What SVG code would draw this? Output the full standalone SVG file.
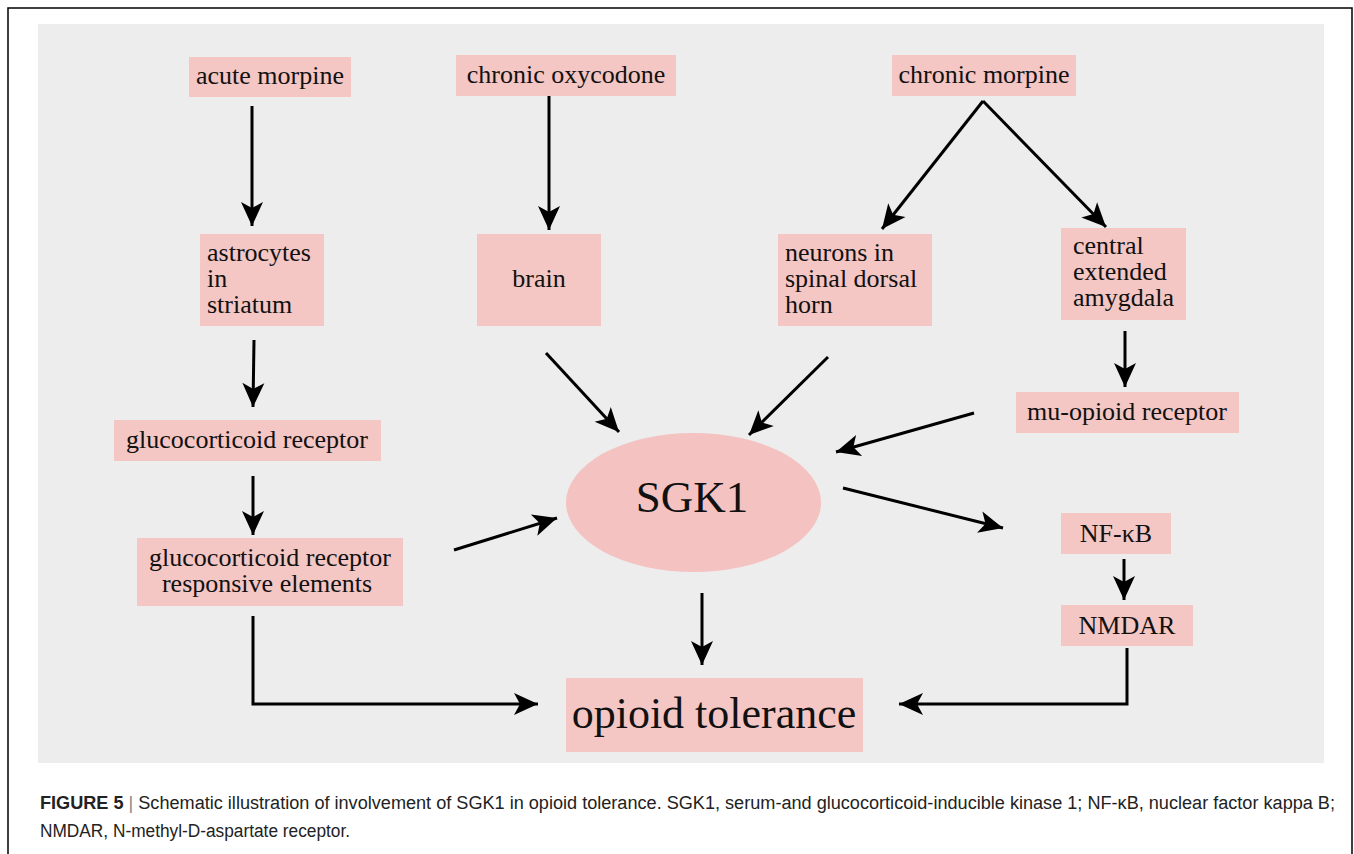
<svg xmlns="http://www.w3.org/2000/svg" width="1354" height="854" viewBox="0 0 1354 854">
<style>
.box{fill:#f4c6c4}
.t{font-family:"Liberation Serif","Times New Roman",serif;font-size:26px;fill:#111}
.c{text-anchor:middle}
.ln{fill:none;stroke:#000;stroke-width:3}
.cap{font-family:"Liberation Sans",Arial,sans-serif;font-size:18px;fill:#222}
</style>
<defs>
<marker id="ah" markerUnits="userSpaceOnUse" markerWidth="30" markerHeight="30" viewBox="-2 -13 30 26" refX="24" refY="0" orient="auto">
<path d="M0,-11 L24,0 L0,11 L6,0 z" fill="#000"/>
</marker>
</defs>
<rect width="1354" height="854" fill="#fff"/>
<path d="M8,860 V8 H1352 V860" fill="none" stroke="#000" stroke-width="1.5"/>
<rect x="38" y="24" width="1286" height="739" fill="#ededed"/>

<g id="acute-morpine"><rect class="box" x="189" y="57" width="162" height="40"/><text class="t c" x="270" y="84">acute morpine</text></g>
<g id="chronic-oxycodone"><rect class="box" x="456" y="55" width="220" height="41"/><text class="t c" x="566" y="83">chronic oxycodone</text></g>
<g id="chronic-morpine"><rect class="box" x="892" y="55" width="184" height="41"/><text class="t c" x="984" y="83">chronic morpine</text></g>
<g id="astrocytes"><rect class="box" x="200" y="234" width="124" height="92"/><text class="t" x="207" y="261">astrocytes</text><text class="t" x="207" y="287">in</text><text class="t" x="207" y="313">striatum</text></g>
<g id="brain"><rect class="box" x="477" y="234" width="124" height="92"/><text class="t c" x="539" y="287">brain</text></g>
<g id="neurons"><rect class="box" x="778" y="234" width="154" height="92"/><text class="t" x="785" y="261">neurons in</text><text class="t" x="785" y="287">spinal dorsal</text><text class="t" x="785" y="313">horn</text></g>
<g id="amygdala"><rect class="box" x="1061" y="228" width="125" height="92"/><text class="t" x="1073" y="254">central</text><text class="t" x="1073" y="280">extended</text><text class="t" x="1073" y="306">amygdala</text></g>
<g id="gr"><rect class="box" x="114" y="420" width="267" height="41"/><text class="t c" x="247" y="448">glucocorticoid receptor</text></g>
<g id="gre"><rect class="box" x="137" y="538" width="266" height="68"/><text class="t c" x="270" y="566">glucocorticoid receptor</text><text class="t c" x="267" y="592">responsive elements</text></g>
<g id="sgk1"><ellipse cx="693.5" cy="502.5" rx="127.5" ry="69.5" fill="#f4c2c0"/><text class="t c" x="692" y="512" style="font-size:45px">SGK1</text></g>
<g id="mu"><rect class="box" x="1016" y="392" width="223" height="41"/><text class="t c" x="1127" y="420">mu-opioid receptor</text></g>
<g id="nfkb"><rect class="box" x="1061" y="513" width="110" height="41"/><text class="t c" x="1116" y="542">NF-κB</text></g>
<g id="nmdar"><rect class="box" x="1061" y="605" width="132" height="41"/><text class="t c" x="1127" y="634">NMDAR</text></g>
<g id="opioid-tolerance"><rect class="box" x="566" y="678" width="297" height="74"/><text class="t c" x="714" y="728" style="font-size:44px">opioid tolerance</text></g>

<g id="connectors">
<path class="ln" marker-end="url(#ah)" d="M252,106 V226"/>
<path class="ln" marker-end="url(#ah)" d="M549,96 V230"/>
<path class="ln" marker-end="url(#ah)" d="M983,101 L882,229"/>
<path class="ln" marker-end="url(#ah)" d="M983,101 L1106,227"/>
<path class="ln" marker-end="url(#ah)" d="M254,340 L253,407"/>
<path class="ln" marker-end="url(#ah)" d="M253,476 V535"/>
<path class="ln" marker-end="url(#ah)" d="M454,550 L557,518"/>
<path class="ln" marker-end="url(#ah)" d="M253,616 V704 H538"/>
<path class="ln" marker-end="url(#ah)" d="M546,353 L619,432"/>
<path class="ln" marker-end="url(#ah)" d="M828,357 L749,435"/>
<path class="ln" marker-end="url(#ah)" d="M974,413 L836,452"/>
<path class="ln" marker-end="url(#ah)" d="M1125,331 V387"/>
<path class="ln" marker-end="url(#ah)" d="M843,488 L1003,528"/>
<path class="ln" marker-end="url(#ah)" d="M1124,559 V600"/>
<path class="ln" marker-end="url(#ah)" d="M702,593 V665"/>
<path class="ln" marker-end="url(#ah)" d="M1127,648 V704 H899"/>
</g>

<text class="cap" x="40" y="809" textLength="1295" lengthAdjust="spacingAndGlyphs"><tspan font-weight="bold">FIGURE 5</tspan><tspan fill="#888"> | </tspan>Schematic illustration of involvement of SGK1 in opioid tolerance. SGK1, serum-and glucocorticoid-inducible kinase 1; NF-κB, nuclear factor kappa B;</text>
<text class="cap" x="40" y="837" textLength="310" lengthAdjust="spacingAndGlyphs">NMDAR, N-methyl-D-aspartate receptor.</text>
</svg>
